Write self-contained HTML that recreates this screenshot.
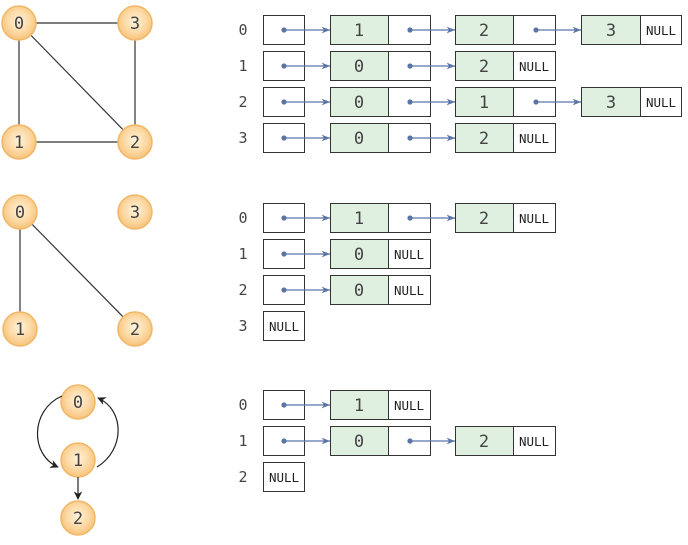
<!DOCTYPE html>
<html><head><meta charset="utf-8"><style>
html,body{margin:0;padding:0;background:#fff;}
svg{display:block;}
text{font-family:"DejaVu Sans Mono","Liberation Mono",monospace;}
</style></head><body>
<svg width="688" height="545" viewBox="0 0 688 545" xmlns="http://www.w3.org/2000/svg">
<defs>
<radialGradient id="g" cx="50%" cy="45%" r="55%">
<stop offset="0" stop-color="#fff3dc"/><stop offset="0.6" stop-color="#fcd9a4"/><stop offset="1" stop-color="#f7c27a"/>
</radialGradient>
<marker id="a" viewBox="0 0 10 10" refX="10" refY="5" markerWidth="7" markerHeight="7" orient="auto"><path d="M0,1 L10,5 L0,9 L3,5z" fill="#5a74a8"/></marker>
<marker id="k" viewBox="0 0 10 10" refX="9" refY="5" markerWidth="7" markerHeight="7" orient="auto"><path d="M0,0 L10,5 L0,10 L3,5z" fill="#222"/></marker>
<g id="dot"><circle r="2.6" fill="#5a74a8"/></g>
</defs>
<!-- graph 1 -->
<g stroke="#333" stroke-width="1.2">
<line x1="19" y1="23" x2="135" y2="23"/><line x1="19" y1="23" x2="19" y2="142"/>
<line x1="19" y1="23" x2="135" y2="142"/><line x1="135" y1="23" x2="135" y2="142"/>
<line x1="19" y1="142" x2="135" y2="142"/>
<line x1="20" y1="212" x2="20" y2="329"/><line x1="20" y1="212" x2="135" y2="329"/>
</g>
<g fill="url(#g)" stroke="#f2b766" stroke-width="1.5">
<circle cx="19" cy="23" r="17"/><circle cx="135" cy="23" r="17"/><circle cx="19" cy="142" r="17"/><circle cx="135" cy="142" r="17"/>
<circle cx="20" cy="212" r="17"/><circle cx="135" cy="212" r="17"/><circle cx="20" cy="329" r="17"/><circle cx="135" cy="329" r="17"/>
<circle cx="78" cy="402" r="17"/><circle cx="78" cy="460" r="17"/><circle cx="78" cy="518" r="17"/>
</g>
<g fill="none" stroke="#222" stroke-width="1.2">
<path d="M62,396 C30,410 30,455 58,467" marker-end="url(#k)"/>
<path d="M97,467 C125,450 125,410 98,398" marker-end="url(#k)"/>
<line x1="78" y1="477" x2="78" y2="499" marker-end="url(#k)"/>
</g>
<g font-size="17" fill="#444" text-anchor="middle">
<text x="19" y="29">0</text><text x="135" y="29">3</text><text x="19" y="148">1</text><text x="135" y="148">2</text>
<text x="20" y="218">0</text><text x="135" y="218">3</text><text x="20" y="335">1</text><text x="135" y="335">2</text>
<text x="78" y="408">0</text><text x="78" y="466">1</text><text x="78" y="524">2</text>
</g>
<!-- lists -->
<g font-size="15" fill="#444" text-anchor="middle">
<text x="243" y="35">0</text><text x="243" y="71">1</text><text x="243" y="107">2</text><text x="243" y="143">3</text>
<text x="243" y="223">0</text><text x="243" y="259">1</text><text x="243" y="295">2</text><text x="243" y="331">3</text>
<text x="243" y="410">0</text><text x="243" y="446">1</text><text x="243" y="482">2</text>
</g>
<g stroke="#333" stroke-width="1" fill="#fff">
<!-- head boxes -->
<rect x="263.5" y="15.5" width="41" height="29"/><rect x="263.5" y="51.5" width="41" height="29"/><rect x="263.5" y="87.5" width="41" height="29"/><rect x="263.5" y="123.5" width="41" height="29"/>
<rect x="263.5" y="203.5" width="41" height="29"/><rect x="263.5" y="239.5" width="41" height="29"/><rect x="263.5" y="275.5" width="41" height="29"/><rect x="263.5" y="311.5" width="41" height="29"/>
<rect x="263.5" y="390.5" width="41" height="29"/><rect x="263.5" y="426.5" width="41" height="29"/><rect x="263.5" y="462.5" width="41" height="29"/>
</g>
<g stroke="#333" stroke-width="1">
<!-- node template: green 59 + white 42 -->
<g fill="#dff0e0">
<rect x="330.5" y="15.5" width="58" height="29"/><rect x="455.5" y="15.5" width="58" height="29"/><rect x="581.5" y="15.5" width="59" height="29"/>
<rect x="330.5" y="51.5" width="58" height="29"/><rect x="455.5" y="51.5" width="58" height="29"/>
<rect x="330.5" y="87.5" width="58" height="29"/><rect x="455.5" y="87.5" width="58" height="29"/><rect x="581.5" y="87.5" width="59" height="29"/>
<rect x="330.5" y="123.5" width="58" height="29"/><rect x="455.5" y="123.5" width="58" height="29"/>
<rect x="330.5" y="203.5" width="58" height="29"/><rect x="455.5" y="203.5" width="58" height="29"/>
<rect x="330.5" y="239.5" width="58" height="29"/><rect x="330.5" y="275.5" width="58" height="29"/>
<rect x="330.5" y="390.5" width="58" height="29"/>
<rect x="330.5" y="426.5" width="58" height="29"/><rect x="455.5" y="426.5" width="58" height="29"/>
</g>
<g fill="#fff">
<rect x="388.5" y="15.5" width="42" height="29"/><rect x="513.5" y="15.5" width="42" height="29"/><rect x="640.5" y="15.5" width="41" height="29"/>
<rect x="388.5" y="51.5" width="42" height="29"/><rect x="513.5" y="51.5" width="42" height="29"/>
<rect x="388.5" y="87.5" width="42" height="29"/><rect x="513.5" y="87.5" width="42" height="29"/><rect x="640.5" y="87.5" width="41" height="29"/>
<rect x="388.5" y="123.5" width="42" height="29"/><rect x="513.5" y="123.5" width="42" height="29"/>
<rect x="388.5" y="203.5" width="42" height="29"/><rect x="513.5" y="203.5" width="42" height="29"/>
<rect x="388.5" y="239.5" width="42" height="29"/><rect x="388.5" y="275.5" width="42" height="29"/>
<rect x="388.5" y="390.5" width="42" height="29"/>
<rect x="388.5" y="426.5" width="42" height="29"/><rect x="513.5" y="426.5" width="42" height="29"/>
</g>
</g>
<!-- arrows -->
<g stroke="#5a74a8" stroke-width="1.2" marker-end="url(#a)">
<line x1="284" y1="30" x2="330" y2="30"/><line x1="410" y1="30" x2="455" y2="30"/><line x1="536" y1="30" x2="581" y2="30"/>
<line x1="284" y1="66" x2="330" y2="66"/><line x1="410" y1="66" x2="455" y2="66"/>
<line x1="284" y1="102" x2="330" y2="102"/><line x1="410" y1="102" x2="455" y2="102"/><line x1="536" y1="102" x2="581" y2="102"/>
<line x1="284" y1="138" x2="330" y2="138"/><line x1="410" y1="138" x2="455" y2="138"/>
<line x1="284" y1="218" x2="330" y2="218"/><line x1="410" y1="218" x2="455" y2="218"/>
<line x1="284" y1="254" x2="330" y2="254"/><line x1="284" y1="290" x2="330" y2="290"/>
<line x1="284" y1="405" x2="330" y2="405"/>
<line x1="284" y1="441" x2="330" y2="441"/><line x1="410" y1="441" x2="455" y2="441"/>
</g>
<g fill="#5a74a8">
<circle cx="284" cy="30" r="2.6"/><circle cx="410" cy="30" r="2.6"/><circle cx="536" cy="30" r="2.6"/>
<circle cx="284" cy="66" r="2.6"/><circle cx="410" cy="66" r="2.6"/>
<circle cx="284" cy="102" r="2.6"/><circle cx="410" cy="102" r="2.6"/><circle cx="536" cy="102" r="2.6"/>
<circle cx="284" cy="138" r="2.6"/><circle cx="410" cy="138" r="2.6"/>
<circle cx="284" cy="218" r="2.6"/><circle cx="410" cy="218" r="2.6"/>
<circle cx="284" cy="254" r="2.6"/><circle cx="284" cy="290" r="2.6"/>
<circle cx="284" cy="405" r="2.6"/>
<circle cx="284" cy="441" r="2.6"/><circle cx="410" cy="441" r="2.6"/>
</g>
<!-- node values -->
<g font-size="17" fill="#444" text-anchor="middle">
<text x="359" y="36">1</text><text x="484" y="36">2</text><text x="611" y="36">3</text>
<text x="359" y="72">0</text><text x="484" y="72">2</text>
<text x="359" y="108">0</text><text x="484" y="108">1</text><text x="611" y="108">3</text>
<text x="359" y="144">0</text><text x="484" y="144">2</text>
<text x="359" y="224">1</text><text x="484" y="224">2</text>
<text x="359" y="260">0</text><text x="359" y="296">0</text>
<text x="359" y="411">1</text>
<text x="359" y="447">0</text><text x="484" y="447">2</text>
</g>
<g font-family="'DejaVu Sans','Liberation Sans',sans-serif" font-size="12.5" fill="#222" text-anchor="middle">
<text x="661" y="35">NULL</text><text x="534" y="71">NULL</text><text x="661" y="107">NULL</text><text x="534" y="143">NULL</text>
<text x="534" y="223">NULL</text><text x="409" y="259">NULL</text><text x="409" y="295">NULL</text><text x="284" y="331">NULL</text>
<text x="409" y="410">NULL</text><text x="534" y="446">NULL</text><text x="284" y="482">NULL</text>
</g>
</svg>
</body></html>
